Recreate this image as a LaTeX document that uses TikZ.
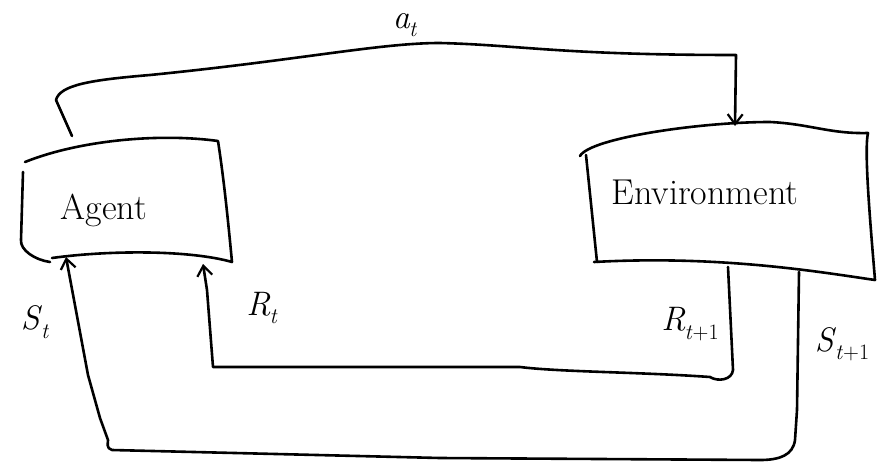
\documentclass[tikz,border=0pt]{standalone}
\usetikzlibrary{arrows.meta}
\newcommand\labsub[2]{\textit{#1}\kern-1pt\raisebox{-0.25em}{\fontsize{22}{24}\selectfont #2}}
\begin{document}
\begin{tikzpicture}[x=1pt,y=-1pt,
  ink/.style={line width=2.6pt,line cap=round,line join=round,black},
  arr/.style={ink,-{Straight Barb[length=10pt,width=15pt,line width=2.2pt]}},
  lbl/.style={font=\fontsize{36}{40}\selectfont},
  sym/.style={font=\fontsize{34}{38}\selectfont,inner sep=1pt}]
\useasboundingbox (0,0) rectangle (880,463);
% Agent box
\draw[ink] (25,162) .. controls (80,140) and (160,133) .. (218,141)
  .. controls (224,180) and (228,220) .. (232,262)
  .. controls (190,250) and (110,250) .. (52,258);
\draw[ink] (23,172) -- (21,240) .. controls (20,250) and (35,260) .. (50,262);
\node[lbl] (agent) at (104,210) {Agent};
% Environment box
\draw[ink] (580,156) .. controls (590,138) and (700,122) .. (770,122)
  .. controls (810,124) and (830,134) .. (868,133)
  .. controls (864,150) and (870,220) .. (875,280)
  .. controls (820,272) and (720,255) .. (594,262);
\draw[ink] (586,155) -- (597,262);
\node[lbl] (env) at (705,192) {Environment};
% anchors on boxes
\coordinate (agentTop) at (72,136);
\coordinate (envTop) at (735,126);
\coordinate (agentBotL) at (66,257);
\coordinate (agentBotR) at (203,264);
\coordinate (envBotR) at (728,267);
\coordinate (envBotS) at (799,272);
% action a_t
\draw[arr] (agentTop) -- (56,100) .. controls (60,85) and (90,80) .. (150,75)
  .. controls (300,60) and (380,43) .. (440,43)
  .. controls (520,45) and (560,55) .. (736,55) -- (envTop);
\node[sym] (at) at (405,25) {\labsub{a}{\textit{t}}};
% reward R_{t+1} -> R_t
\draw[arr] (envBotR) -- (733,370) .. controls (732,380) and (718,382) .. (710,377)
  .. controls (640,372) and (560,372) .. (520,367) -- (213,367) -- (207,290) -- (agentBotR);
\node[sym] (rt) at (262,308) {\labsub{R}{\textit{t}}};
\node[sym] (rt1) at (690,324) {\labsub{R}{\textit{t}+1}};
% state S_{t+1} -> S_t
\draw[arr] (envBotS) -- (797,410) -- (795,440) .. controls (793,455) and (780,460) .. (760,460)
  -- (440,458) -- (112,450) .. controls (106,448) and (108,444) .. (108,440)
  -- (100,418) -- (88,375) -- (agentBotL);
\node[sym] (st) at (35,322) {\labsub{S}{\textit{t}}};
\node[sym] (st1) at (842,344) {\labsub{S}{\textit{t}+1}};
\end{tikzpicture}
\end{document}
